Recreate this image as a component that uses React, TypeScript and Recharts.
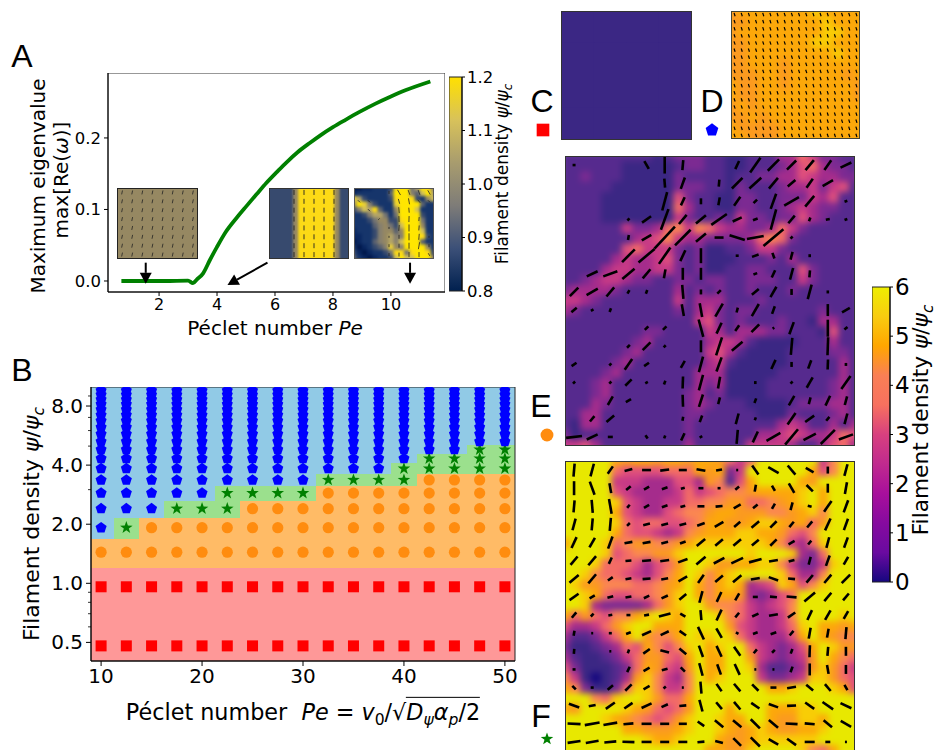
import React from "react";
import { Bar, BarChart, Line, LineChart, ReferenceArea, ReferenceLine, Scatter, ScatterChart, XAxis, YAxis } from "recharts";

// Panel A: growth rate curve
const pecletA = [0.7, 1.5, 2.2, 3.0, 3.17, 3.3, 3.52, 3.75, 3.99, 4.3, 4.68, 5.0, 5.38, 5.7, 6.08, 6.4, 6.78, 7.2, 7.58, 8.0, 8.42, 8.9, 9.47, 10.0, 10.52, 11.36];
const eigenA = [0, 0, 0, 0.0005, -0.003, 0.002, 0.0107, 0.029, 0.047, 0.0685, 0.0885, 0.104, 0.122, 0.137, 0.153, 0.166, 0.18, 0.193, 0.204, 0.215, 0.225, 0.236, 0.248, 0.258, 0.267, 0.279];

// Panel B: phase diagram
const pecletB = [10, 12.5, 15, 17.5, 20, 22.5, 25, 27.5, 30, 32.5, 35, 37.5, 40, 42.5, 45, 47.5, 50];
const psiLevels = [0.48, 0.96, 1.44, 1.92, 2.4, 2.88, 3.36, 3.84, 4.32, 4.8, 5.28, 5.76, 6.24, 6.72, 7.2, 7.68, 8.16, 8.64, 9.12, 9.6];
const redCount = 2;
// how many levels from the bottom are orange / orange + green, per column
const orangeTop = [3, 3, 4, 4, 4, 4, 5, 5, 5, 6, 6, 6, 6, 7, 7, 7, 7];
const starTop = [3, 4, 4, 5, 5, 6, 6, 6, 6, 7, 7, 7, 8, 9, 9, 10, 10];
const psiTicksMajor = [0.5, 1, 2, 4, 8];
const psiTicksMinor = [0.6, 0.7, 0.8, 0.9, 3, 5, 6, 7, 9];

// Density fields, one hex digit per cell (digit * 0.5 = psi/psi_c)
const cRows = ["1111", "1111", "1111", "1111"];
const dRows = [
  "9aaaaaaabaaaa", "99aaaaaaabaaa", "9aaaaaaaabbaa", "99aaaaaabbaaa", "99aaaaaaaabaa", "99aaa9aaaaaaa", "999aa9aaaaa9a",
  "a99aa9aaaaaa9", "a99aaaaaaaaa9", "9a9aaaaaaaaaa", "99a9aaaaaaaaa", "a9999aaaaaaaa", "aa999aaaaaaaa",
];
const eRows = [
  "22222222212333221122244753322", "22222211111233221122234674332", "22322211111322221223344654433", "22222111111333221322234453562",
  "22221111111632211332233354622", "22221111111742211332234543322", "22221111111532232533233643222", "22222253347858754433475322222",
  "22222224568544333347873222222", "22222267555323112235532222222", "22222454456323111222324222222", "22224554455323112233222632222",
  "22345543322332332233322532222", "34444322222423232232223222222", "55432222222524442223222222222", "43222222222324532332222223222",
  "22222222222225632322232214422", "22222222332222542444332221622", "22222223422222455421111222422", "22222234222222564211112222332",
  "22222342222222452111112222242", "22223422222224441111122222242", "22234222222224341111222222342", "22234222222234231111222222342",
  "22243222222234322211112333442", "22442222222233222221113222342", "21442222222232222222245422424", "31222222222232222224456544576",
  "55642222222242222255554224674",
];
const fRows = [
  "ccccca9aa9aa9aa9757cccccc58cc", "ccccc76666777a9a35cccccca68cc", "ccccc5554446649826acccca9cccc", "ccccc65444457567889aaaabcaccc",
  "cccccb6544557788997789abcaccc", "ccccca654467889aa999889ab8ccc", "cccccb76776678aa99abba9a79ccc", "ccccca76654589aaabbaa9768cccc",
  "acccb7899889abbbbbbba8547bccc", "ccccb678899bccccccbcccb437ccc", "cccb77764679ccb99aabb85335bcc", "ccb87765468acb8abccccb7448ccc",
  "cb998887789aca8aba456ba68bccc", "ccba7667789bca8aa943467cccccc", "ccb43333479bcc988754568cccccc", "a797688abcbacccb8754458ccccbc",
  "644579bccaaacccc9654457bcaa9a", "422357ac988acbbcb754446aca988", "31123476a868bcabcc754346acb99", "421123579976acaacc9543459ca87",
  "63111237a9659caaccb422349b975", "85101249b8548cabccc53345bb976", "a831137bb8558cccccccaabcccba6", "ccc87bccb977acccccccccccccccc",
  "a9ccccba97679cccacccaaabbcccc", "ccccba987679bccbaacca99bbaccc", "ccccccaa999abccba9aba99aabccc", "ccccccccbaabccca99abbbbbbcccc",
  "ccccccccccccccaa99bccccb87acc",
];

// Director field E: segment length and angle (deg) per grid site
const eLen = [
  [3, 0, 0, 0, 9, 17, 10, 0, 0, 9, 18, 16, 13, 13, 12, 12], [0, 0, 0, 0, 0, 9, 12, 0, 7, 15, 16, 14, 10, 11, 12, 0],
  [0, 0, 0, 0, 0, 19, 9, 6, 8, 11, 5, 16, 17, 14, 0, 3], [0, 0, 0, 3, 11, 22, 12, 13, 19, 10, 5, 21, 10, 4, 4, 3],
  [0, 0, 0, 5, 11, 30, 22, 13, 9, 16, 17, 26, 3, 0, 0, 0], [0, 0, 0, 18, 21, 20, 12, 15, 0, 3, 7, 6, 8, 3, 0, 0],
  [0, 12, 15, 16, 12, 9, 12, 12, 0, 0, 4, 8, 12, 7, 0, 0], [12, 13, 12, 4, 4, 0, 14, 5, 5, 0, 9, 12, 6, 15, 3, 0],
  [7, 3, 4, 0, 0, 0, 12, 14, 15, 5, 14, 8, 0, 0, 12, 9], [0, 0, 0, 0, 5, 5, 0, 18, 12, 7, 11, 2, 13, 0, 17, 4],
  [0, 0, 0, 4, 11, 3, 0, 12, 19, 14, 0, 0, 17, 0, 18, 0], [6, 0, 3, 13, 6, 0, 8, 16, 15, 0, 0, 10, 5, 9, 10, 3],
  [3, 0, 3, 9, 3, 4, 12, 16, 12, 0, 3, 0, 3, 12, 0, 16], [0, 0, 10, 6, 0, 0, 12, 13, 7, 0, 5, 0, 11, 7, 11, 9],
  [0, 7, 10, 0, 0, 0, 4, 7, 0, 11, 3, 0, 14, 11, 5, 11], [16, 12, 5, 0, 4, 3, 8, 3, 0, 14, 12, 16, 20, 14, 20, 15],
];
const eAng = [
  [0, 0, 0, 0, -60, 90, 85, 0, 0, 65, 55, 45, 45, 50, 55, 25], [0, 0, 0, 0, 0, 95, 70, 0, 85, 45, 42, 50, 40, 55, 30, 0],
  [0, 0, 0, 0, 0, 75, 65, 90, 80, 55, 45, 70, 30, 50, 0, 20], [0, 0, 0, 45, 35, 70, 50, 40, 35, 25, 20, 75, 50, 70, 10, 20],
  [0, 0, 0, 80, 30, 47, 45, 40, 0, -17, 10, 40, 45, 0, 0, 0], [0, 0, 0, 45, 40, 55, 65, 90, 0, 0, 20, -70, 75, 90, 0, 0],
  [0, 25, 20, 40, 50, 80, 90, 90, 0, 0, 20, 65, 75, 85, 0, 0], [45, 30, 50, 60, 70, 0, 95, 90, 45, 0, 40, 60, 90, 75, 90, 0],
  [40, 30, 70, 0, 0, 0, 100, 100, 60, 75, 60, 70, 0, 0, 90, 30], [0, 0, 0, 0, 45, 45, 0, 105, 65, 55, 45, 30, 70, 0, 90, 40],
  [0, 0, 0, 45, 45, 45, 0, 90, 72, 40, 0, 0, 85, 0, 88, 0], [35, 0, 45, 55, 35, 0, 60, 75, 70, 0, 0, 65, 90, 70, 88, 90],
  [45, 0, 45, 45, 30, 70, 88, 75, 80, 0, 90, 0, 45, 60, 0, 55], [0, 0, 60, 30, 0, 0, 92, 72, 75, 0, 70, 0, 60, 75, 65, 75],
  [0, 50, 40, 0, 0, 0, 80, 70, 0, 75, 70, 0, 55, 35, 50, 75], [7, 25, 0, 0, -55, 70, 65, 30, 0, 85, 65, 30, 50, 28, 45, 20],
];

// Director field F
const fLen = [
  [13, 13, 9, 8, 9, 9, 8, 9, 6, 2, 11, 12, 12, 9, 7, 12], [14, 14, 10, 6, 6, 6, 4, 5, 3, 5, 7, 6, 11, 9, 9, 12],
  [12, 13, 15, 4, 6, 6, 5, 7, 7, 8, 6, 6, 8, 4, 13, 13], [12, 12, 13, 4, 7, 7, 7, 8, 10, 8, 10, 9, 7, 8, 13, 12],
  [12, 11, 13, 8, 8, 7, 6, 11, 10, 10, 9, 9, 7, 5, 11, 11], [11, 12, 7, 6, 9, 9, 10, 12, 12, 13, 13, 9, 6, 8, 11, 9],
  [12, 12, 6, 6, 8, 7, 10, 10, 10, 11, 9, 10, 7, 10, 11, 12], [11, 6, 6, 6, 6, 7, 9, 12, 11, 8, 5, 7, 10, 14, 11, 9],
  [7, 4, 4, 4, 5, 12, 6, 10, 12, 6, 7, 9, 9, 11, 11, 9], [5, 2, 3, 5, 10, 9, 8, 14, 11, 3, 5, 6, 6, 11, 9, 12],
  [5, 0, 2, 4, 8, 9, 9, 12, 12, 11, 5, 4, 5, 12, 9, 9], [3, 0, 0, 6, 7, 6, 6, 13, 11, 12, 2, 2, 6, 12, 9, 9],
  [5, 3, 7, 9, 7, 3, 2, 12, 9, 10, 9, 6, 9, 9, 9, 6], [11, 7, 11, 10, 11, 7, 7, 12, 9, 10, 10, 10, 9, 11, 13, 12],
  [13, 15, 14, 10, 10, 9, 8, 8, 11, 11, 13, 12, 12, 10, 11, 12], [13, 13, 12, 12, 10, 9, 9, 7, 8, 11, 13, 11, 11, 10, 5, 2],
];
const fAng = [
  [85, 75, 55, 15, 0, 7, 0, -10, 10, 0, -55, -30, -50, -30, 90, 75], [90, 110, 100, 40, 30, 20, 15, 0, 0, 40, 80, 120, -60, -45, 90, 80],
  [85, 95, 100, 50, 30, 20, 15, 0, 5, 30, 40, 60, 75, -15, 55, 70], [75, 85, 85, 45, 15, 15, 15, 20, 30, 40, 40, 45, 50, 50, 65, 70],
  [65, 60, 70, 10, 10, 15, 20, 40, 40, 40, 40, 45, 30, 50, 75, 70], [50, 50, 65, 5, 5, 8, 20, 40, 28, 25, 15, 10, 15, 75, 70, 60],
  [40, 50, 35, 10, 5, 10, 30, 55, 40, 40, 10, -20, -5, 50, 50, 45], [35, 30, 15, 10, 25, 25, 40, 75, 65, 60, 0, -5, -5, 40, 50, 50],
  [50, 45, 10, 0, 10, 15, -30, -85, 65, 50, 25, 10, 35, 65, 60, 60], [80, 0, 0, 20, 25, 25, -35, -65, -60, -30, 20, 20, 50, 80, 80, 85],
  [85, 0, 0, 70, 35, -15, -40, -70, -65, -55, 50, 45, 70, 88, 85, 90], [0, 0, 0, 65, 30, 15, -45, -75, -70, -65, 0, 0, 70, 90, 100, 90],
  [-45, 0, 40, 45, 30, 40, 0, -85, -55, -50, -45, 0, 10, -40, -50, -60], [-20, 10, 35, 35, 25, 25, 5, -75, -50, -50, -35, -20, 3, -35, -35, -25],
  [-3, 10, 10, 5, 0, 0, 0, -35, -40, -40, -45, -40, -3, -5, -40, -30], [8, 10, 5, -2, 0, 0, 0, 5, -15, -45, -45, -30, -35, 0, 0, 0],
];

// Director field D: same short tilted dashes in all 18 rows
const dLenRow = [3.5, 3.5, 3.5, 3.5, 3.5, 3.5, 3.5, 3.5, 3.5, 3.5, 3.5, 3.5, 3.5, 3.5, 3.5, 3.5, 3.5, 3.5];
const dAngRow = [108, 108, 108, 108, 108, 108, 108, 108, 108, 108, 108, 108, 108, 108, 108, 108, 108, 108];
const dRowIds = [0, 1, 2, 3, 4, 5, 6, 7, 8, 9, 10, 11, 12, 13, 14, 15, 16, 17];

// Insets of panel A, digit d means psi = 0.8 + d / 30
const inset1Rows = ["7"];
const inset2Rows = ["333337bbbbbbb733"];
const inset3Rows = [
  "00112223bcc58cb7", "12222224ccc649c8", "a8322223bccb3279", "7ca63222acccc422",
  "3698b4227ccc9222", "223688525cccc322", "222357733bccc522", "2222467539ccc722",
  "1222367747ccc922", "1122367866cccb32", "0122467869ccc422", "2012346a76cccc72",
  "31012235bb5bccb3", "421012239c99ccc7",
];
const insetLen1 = [
  [4, 4, 4, 4, 4, 4, 4, 4], [4, 4, 4, 4, 4, 4, 4, 4], [4, 4, 4, 4, 4, 4, 4, 4], [4, 4, 4, 4, 4, 4, 4, 4],
  [4, 4, 4, 4, 4, 4, 4, 4], [4, 4, 4, 4, 4, 4, 4, 4], [4, 4, 4, 4, 4, 4, 4, 4], [4, 4, 4, 4, 4, 4, 4, 4],
];
const insetAng1 = [
  [78, 78, 78, 78, 78, 78, 78, 78], [78, 78, 78, 78, 78, 78, 78, 78], [78, 78, 78, 78, 78, 78, 78, 78], [78, 78, 78, 78, 78, 78, 78, 78],
  [78, 78, 78, 78, 78, 78, 78, 78], [78, 78, 78, 78, 78, 78, 78, 78], [78, 78, 78, 78, 78, 78, 78, 78], [78, 78, 78, 78, 78, 78, 78, 78],
];
const insetLen2 = [
  [0, 0, 5, 5, 5, 5, 5, 0], [0, 0, 5, 5, 5, 5, 5, 0], [0, 0, 5, 5, 5, 5, 5, 0], [0, 0, 5, 5, 5, 5, 5, 0],
  [0, 0, 5, 5, 5, 5, 5, 0], [0, 0, 5, 5, 5, 5, 5, 0], [0, 0, 5, 5, 5, 5, 5, 0], [0, 0, 5, 5, 5, 5, 5, 0],
];
const insetAng2 = [
  [90, 90, 90, 90, 90, 90, 90, 90], [90, 90, 90, 90, 90, 90, 90, 90], [90, 90, 90, 90, 90, 90, 90, 90], [90, 90, 90, 90, 90, 90, 90, 90],
  [90, 90, 90, 90, 90, 90, 90, 90], [90, 90, 90, 90, 90, 90, 90, 90], [90, 90, 90, 90, 90, 90, 90, 90], [90, 90, 90, 90, 90, 90, 90, 90],
];
const insetLen3 = [
  [0, 0, 0, 3, 6, 5, 5, 5], [3, 3, 0, 0, 5, 6, 4, 3], [0, 3, 0, 0, 6, 5, 0, 0], [0, 0, 2, 0, 6, 6, 4, 0],
  [0, 0, 0, 2, 6, 7, 5, 0], [0, 0, 0, 2, 4, 7, 6, 2], [0, 0, 0, 3, 4, 6, 7, 3], [0, 0, 0, 3, 4, 5, 5, 3],
];
const insetAng3 = [
  [0, 0, 0, 90, -60, -70, -70, -60], [-45, -45, 0, 0, -75, -80, -50, -45], [0, -45, 0, 0, -85, -85, 0, 0], [0, 0, 45, 0, -88, 88, 85, 0],
  [0, 0, 0, 90, 85, 90, 85, 0], [0, 0, 0, 90, 90, 90, 85, 90], [0, 0, 0, 90, 90, 90, 80, 90], [0, 0, 0, 90, 90, 90, 90, -60],
];

const SANS = "'DejaVu Sans', sans-serif";
const LETTER = "'Liberation Sans', Arial, sans-serif";

const plasmaStops: [number, string][] = [
  [0, "#15087f"], [0.5, "#3b2784"], [1, "#562a8e"], [1.5, "#7c2a92"], [2, "#a52c8c"], [2.5, "#c73a86"], [3, "#e0507c"],
  [3.5, "#f36c66"], [4, "#fb8850"], [4.5, "#fb9a20"], [5, "#fca80a"], [5.5, "#f8cd06"], [6, "#e8e800"],
];
const cividisStops: [number, string][] = [
  [0.8, "#00174a"], [0.84, "#0b2a66"], [0.88, "#1c3a6e"], [0.92, "#515a6d"], [0.96, "#707173"], [1.0, "#87806e"],
  [1.04, "#998a60"], [1.08, "#c3b369"], [1.12, "#e1cc45"], [1.16, "#fbd81a"], [1.2, "#ffe600"],
];
const plasmaBar = ["#eeee00", "#f8cc10", "#ffa600", "#f97f55", "#f7705f", "#d8407f", "#c02a8e", "#a80f9c", "#860a9f", "#6a0aa0", "#16077f"];
const cividisBar = ["#ffe000", "#d8c25a", "#a89c6e", "#7e7c78", "#3c5078", "#00204f"];

function colorAt(stops: [number, string][], v: number) {
  const hex = (s: string, i: number) => parseInt(s.slice(i, i + 2), 16);
  if (v <= stops[0][0]) return stops[0][1];
  for (let i = 1; i < stops.length; i++) {
    if (v <= stops[i][0]) {
      const [a, ca] = stops[i - 1];
      const [b, cb] = stops[i];
      const t = (v - a) / (b - a);
      const m = (k: number) => Math.round(hex(ca, k) + (hex(cb, k) - hex(ca, k)) * t);
      return `rgb(${m(1)},${m(3)},${m(5)})`;
    }
  }
  return stops[stops.length - 1][1];
}

const toPlasma = (ch: string) => colorAt(plasmaStops, parseInt(ch, 16) * 0.5);
const toCividis = (ch: string) => colorAt(cividisStops, 0.8 + parseInt(ch, 16) / 30);

// Field image: scatter of squares (blurred layer) with a scatter of rotated segments above it
const HeatPanel = ({ left, top, width, height, rows, colorOf, lens, angs, lineWidth, lineColor = "#000", blur = 0, border = "#444" }: any) => {
  const nr = rows.length;
  const cells = rows.flatMap((row: string, j: number) =>
    [...row].map((ch, i) => ({ x: (i + 0.5) / row.length, y: 1 - (j + 0.5) / nr, w: width / row.length, h: height / nr, fill: colorOf(ch) })),
  );
  const segs = (lens || []).flatMap((row: number[], j: number) =>
    row.map((len, i) => ({ x: (i + 0.5) / row.length, y: 1 - (j + 0.5) / lens.length, len, ang: angs[j][i] })).filter((d) => d.len > 0),
  );
  const cellShape = (p: any) => (
    <rect x={p.cx - p.payload.w / 2 - 0.5} y={p.cy - p.payload.h / 2 - 0.5} width={p.payload.w + 1} height={p.payload.h + 1} fill={p.payload.fill} />
  );
  const segShape = (p: any) => {
    const r = (p.payload.ang * Math.PI) / 180;
    const dx = (Math.cos(r) * p.payload.len) / 2;
    const dy = (Math.sin(r) * p.payload.len) / 2;
    return <line x1={p.cx - dx} y1={p.cy + dy} x2={p.cx + dx} y2={p.cy - dy} stroke={lineColor} strokeWidth={lineWidth} />;
  };
  const grow = blur ? 1 + (3 * blur) / width : 1;
  const zero = { top: 0, right: 0, bottom: 0, left: 0 };
  return (
    <div style={{ position: "absolute", left, top, width, height, overflow: "hidden", background: "#fff" }}>
      <div style={{ position: "absolute", left: 0, top: 0, filter: blur ? `blur(${blur}px)` : undefined, transform: `scale(${grow})` }}>
        <ScatterChart width={width} height={height} margin={zero}>
          <XAxis type="number" dataKey="x" domain={[0, 1]} hide />
          <YAxis type="number" dataKey="y" domain={[0, 1]} hide />
          <Scatter data={cells} shape={cellShape} isAnimationActive={false} />
        </ScatterChart>
      </div>
      {segs.length > 0 && (
        <div style={{ position: "absolute", left: 0, top: 0 }}>
          <ScatterChart width={width} height={height} margin={zero}>
            <XAxis type="number" dataKey="x" domain={[0, 1]} hide />
            <YAxis type="number" dataKey="y" domain={[0, 1]} hide />
            <Scatter data={segs} shape={segShape} isAnimationActive={false} />
          </ScatterChart>
        </div>
      )}
      <div style={{ position: "absolute", inset: 0, boxSizing: "border-box", border: `1px solid ${border}` }} />
    </div>
  );
};

const ColorBar = ({ left, top, width, height, domain, ticks, colors, id, fontSize, tickFormat }: any) => (
  <div style={{ position: "absolute", left, top: top - 14, fontFamily: SANS }}>
    <BarChart width={width + 44} height={height + 28} data={[{ name: "cb", v: domain }]} margin={{ top: 14, right: 0, bottom: 14, left: 0 }} barCategoryGap={0}>
      <defs>
        <linearGradient id={id} x1="0" y1="0" x2="0" y2="1">
          {colors.map((c: string, i: number) => (
            <stop key={i} offset={i / (colors.length - 1)} stopColor={c} />
          ))}
        </linearGradient>
      </defs>
      <XAxis dataKey="name" hide />
      <YAxis orientation="right" width={44} type="number" domain={domain} ticks={ticks} interval={0} tickFormatter={tickFormat}
        tick={{ fontSize, fill: "#000", fontFamily: SANS }} tickSize={3} tickMargin={2} stroke="#000" />
      <Bar dataKey="v" fill={`url(#${id})`} stroke="#222" isAnimationActive={false} />
    </BarChart>
  </div>
);

const Txt = ({ x, y, size, rotate, family = SANS, children }: any) => (
  <div style={{
    position: "absolute", left: x, top: y, fontFamily: family, fontSize: size, color: "#000", whiteSpace: "pre", lineHeight: 1,
    transform: `translate(-50%,-50%)${rotate ? ` rotate(${rotate}deg)` : ""}`,
  }}>
    {children}
  </div>
);

const PsiFrac = () => (
  <span style={{ whiteSpace: "pre" }}>
    <i>ψ</i>/<i>ψ</i><sub style={{ fontSize: "0.7em", lineHeight: 0 }}><i>c</i></sub>
  </span>
);

// marker shapes shared between panel B and the panel keys
const starPoints = (cx: number, cy: number, R: number) =>
  Array.from({ length: 10 }, (_, i) => {
    const r = i % 2 === 0 ? R : R * 0.4;
    const t = (-90 + i * 36) * (Math.PI / 180);
    return `${cx + r * Math.cos(t)},${cy + r * Math.sin(t)}`;
  }).join(" ");
const pentaPoints = (cx: number, cy: number, R: number) =>
  Array.from({ length: 5 }, (_, i) => {
    const t = (-90 + i * 72) * (Math.PI / 180);
    return `${cx + R * Math.cos(t)},${cy + R * Math.sin(t)}`;
  }).join(" ");
const SquareMark = (p: any) => <rect x={p.cx - 5.5} y={p.cy - 5.5} width={11} height={11} fill="#ff0000" />;
const CircleMark = (p: any) => <circle cx={p.cx} cy={p.cy} r={5.6} fill="#ff8c0f" />;
const PentaMark = (p: any) => <polygon points={pentaPoints(p.cx, p.cy, 5.8)} fill="#0000ff" />;
const StarMark = (p: any) => <polygon points={starPoints(p.cx, p.cy, 6.6)} fill="#008000" />;

const Key = ({ x, y, Mark, R = 1 }: any) => (
  <svg style={{ position: "absolute", left: x - 10, top: y - 10 }} width={20} height={20}>
    <g transform={`translate(10 10) scale(${R}) translate(-10 -10)`}>
      <Mark cx={10} cy={10} />
    </g>
  </svg>
);

const Arrow = (p: any) => {
  const x1 = p.x1, y1 = p.y1, x2 = p.x2, y2 = p.y2;
  const L = Math.hypot(x2 - x1, y2 - y1);
  const ux = (x2 - x1) / L, uy = (y2 - y1) / L;
  const bx = x2 - ux * 11, by = y2 - uy * 11;
  return (
    <g>
      <line x1={x1} y1={y1} x2={bx} y2={by} stroke="#000" strokeWidth={2} />
      <polygon points={`${x2},${y2} ${bx - uy * 6},${by + ux * 6} ${bx + uy * 6},${by - ux * 6}`} fill="#000" />
    </g>
  );
};

const PsiTick = (p: any) => {
  const major = psiTicksMajor.includes(p.payload.value);
  const ax = p.x + 8;
  return (
    <g>
      <line x1={ax - (major ? 5 : 3)} x2={ax} y1={p.y} y2={p.y} stroke="#000" strokeWidth={major ? 1 : 0.8} />
      {major && (
        <text x={p.x} y={p.y} dy={7} textAnchor="end" fontSize={20} fontFamily={SANS} fill="#000">
          {p.payload.value.toFixed(1)}
        </text>
      )}
    </g>
  );
};

export default function App() {
  const lineData = pecletA.map((x, i) => ({ x, y: eigenA[i] }));
  const red = pecletB.flatMap((x) => psiLevels.slice(0, redCount).map((y) => ({ x, y })));
  const orange = pecletB.flatMap((x, c) => psiLevels.slice(redCount, orangeTop[c]).map((y) => ({ x, y })));
  const green = pecletB.flatMap((x, c) => psiLevels.slice(orangeTop[c], starTop[c]).map((y) => ({ x, y })));
  const blue = pecletB.flatMap((x, c) => psiLevels.slice(starTop[c]).map((y) => ({ x, y })));
  // edge between level n-1 and n, midway
  const edge = (n: number) => (psiLevels[n - 1] + psiLevels[n]) / 2;
  const xL = (c: number) => Math.max(9, pecletB[c] - 1.25);
  const xR = (c: number) => Math.min(51, pecletB[c] + 1.25);
  const band = { fillOpacity: 1, shapeRendering: "crispEdges" };

  return (
    <div style={{ position: "absolute", left: 0, top: 0, width: 936, height: 750, overflow: "hidden", background: "#fff" }}>
      {/* Panel A */}
      <div style={{ position: "absolute", left: 58, top: 73 }}>
        <LineChart width={387} height={249} data={lineData} margin={{ top: 0, right: 0, bottom: 0, left: 0 }}>
          <XAxis type="number" dataKey="x" domain={[0.238, 11.866]} ticks={[2, 4, 6, 8, 10]} height={30} tickSize={4} tickMargin={3}
            tick={{ fontSize: 16, fill: "#000", fontFamily: SANS }} stroke="#000" />
          <YAxis type="number" domain={[-0.0154, 0.2908]} ticks={[0, 0.1, 0.2]} width={50} tickSize={4} tickMargin={3} allowDataOverflow
            tickFormatter={(v: number) => v.toFixed(1)} tick={{ fontSize: 16.5, fill: "#000", fontFamily: SANS }} stroke="#000" />
          <ReferenceArea x1={0.238} x2={11.866} y1={-0.0154} y2={0.2908} fill="none" stroke="#333" />
          <Line dataKey="y" stroke="#008000" strokeWidth={3.8} dot={false} isAnimationActive={false} type="monotone" />
          <ReferenceLine segment={[{ x: 1.54, y: 0.0256 }, { x: 1.54, y: -0.004 }]} shape={Arrow} />
          <ReferenceLine segment={[{ x: 5.74, y: 0.0256 }, { x: 4.36, y: -0.0056 }]} shape={Arrow} />
          <ReferenceLine segment={[{ x: 10.66, y: 0.0256 }, { x: 10.66, y: -0.004 }]} shape={Arrow} />
        </LineChart>
      </div>
      <HeatPanel left={117} top={188} width={81} height={71} rows={inset1Rows} colorOf={toCividis} lens={insetLen1} angs={insetAng1} lineWidth={0.8} lineColor="#222" border="#222" />
      <HeatPanel left={269} top={188} width={80} height={71} rows={inset2Rows} colorOf={toCividis} lens={insetLen2} angs={insetAng2} lineWidth={0.9} lineColor="#222" border="#333" blur={1} />
      <HeatPanel left={354} top={188} width={80} height={71} rows={inset3Rows} colorOf={toCividis} lens={insetLen3} angs={insetAng3} lineWidth={0.8} lineColor="#222" border="#555" blur={1.6} />
      <ColorBar left={449} top={77} width={13} height={214} domain={[0.8, 1.2]} ticks={[0.8, 0.9, 1, 1.1, 1.2]} colors={cividisBar} id="cbA" fontSize={16.5} tickFormat={(v: number) => v.toFixed(1)} />

      {/* Panel B */}
      <div style={{ position: "absolute", left: 31, top: 387 }}>
        <ScatterChart width={500} height={306} margin={{ top: 0, right: 16, bottom: 0, left: 0 }}>
          <XAxis type="number" dataKey="x" domain={[9, 51]} ticks={[10, 20, 30, 40, 50]} height={32} tickSize={5} tickMargin={3}
            tick={{ fontSize: 20, fill: "#000", fontFamily: SANS }} stroke="#000" />
          <YAxis type="number" dataKey="y" scale="log" domain={[0.402, 10]} allowDataOverflow width={60} interval={0}
            ticks={[...psiTicksMajor, ...psiTicksMinor]} tick={PsiTick} tickLine={false} tickSize={5} tickMargin={3} stroke="#000" />
          <ReferenceArea x1={9} x2={51} y1={0.402} y2={edge(redCount)} fill="#fe9898" stroke="none" {...band} />
          {pecletB.map((_, c) => (
            <ReferenceArea key={`o${c}`} x1={xL(c)} x2={xR(c)} y1={edge(redCount)} y2={edge(orangeTop[c])} fill="#ffbb66" stroke="none" {...band} />
          ))}
          {pecletB.map((_, c) =>
            starTop[c] > orangeTop[c] ? (
              <ReferenceArea key={`g${c}`} x1={xL(c)} x2={xR(c)} y1={edge(orangeTop[c])} y2={edge(starTop[c])} fill="#9be08d" stroke="none" {...band} />
            ) : null,
          )}
          {pecletB.map((_, c) => (
            <ReferenceArea key={`b${c}`} x1={xL(c)} x2={xR(c)} y1={edge(starTop[c])} y2={10} fill="#91cae6" stroke="none" {...band} />
          ))}
          <ReferenceArea x1={9} x2={51} y1={0.402} y2={10} fill="none" stroke="#222" />
          <Scatter data={red} shape={SquareMark} isAnimationActive={false} />
          <Scatter data={orange} shape={CircleMark} isAnimationActive={false} />
          <Scatter data={green} shape={StarMark} isAnimationActive={false} />
          <Scatter data={blue} shape={PentaMark} isAnimationActive={false} />
        </ScatterChart>
      </div>

      {/* Field panels */}
      <HeatPanel left={561} top={11} width={131} height={129} rows={cRows} colorOf={toPlasma} border="#333" />
      <HeatPanel left={731} top={11} width={129} height={128} rows={dRows} colorOf={toPlasma} blur={3}
        lens={dRowIds.map(() => dLenRow)} angs={dRowIds.map(() => dAngRow)} lineWidth={1.2} border="#443" />
      <HeatPanel left={565} top={156} width={290} height={290} rows={eRows} colorOf={toPlasma} lens={eLen} angs={eAng} lineWidth={2.6} border="#333" blur={3.2} />
      <HeatPanel left={565} top={461} width={290} height={290} rows={fRows} colorOf={toPlasma} lens={fLen} angs={fAng} lineWidth={2.6} border="#333" blur={3.2} />
      <ColorBar left={872} top={287} width={18} height={295} domain={[0, 6]} ticks={[0, 1, 2, 3, 4, 5, 6]} colors={plasmaBar} id="cbF" fontSize={23} />

      {/* Panel letters and keys */}
      <Txt x={22} y={56} size={32} family={LETTER}>A</Txt>
      <Txt x={22} y={370} size={32} family={LETTER}>B</Txt>
      <Txt x={542} y={101} size={32} family={LETTER}>C</Txt>
      <Txt x={712} y={101} size={32} family={LETTER}>D</Txt>
      <Txt x={541} y={406} size={32} family={LETTER}>E</Txt>
      <Txt x={541} y={716} size={32} family={LETTER}>F</Txt>
      <Key x={543} y={130} Mark={SquareMark} R={1.15} />
      <Key x={712} y={130} Mark={PentaMark} R={1.15} />
      <Key x={547} y={435} Mark={CircleMark} R={1.15} />
      <Key x={547} y={739} Mark={StarMark} />

      {/* Axis labels */}
      <Txt x={38} y={186} size={20} rotate={-90}>Maximum eigenvalue</Txt>
      <Txt x={61} y={180} size={20} rotate={-90}>max[Re(<i>ω</i>)]</Txt>
      <Txt x={275} y={328} size={20}>Péclet number <i>Pe</i></Txt>
      <Txt x={502} y={174} size={17} rotate={-90}>Filament density <PsiFrac /></Txt>
      <Txt x={32} y={524} size={22} rotate={-90}>Filament density <PsiFrac /></Txt>
      <Txt x={303} y={712} size={22.3}>
        Péclet number  <i>Pe</i> = <i>v</i><sub style={{ fontSize: "0.7em", lineHeight: 0 }}>0</sub>/√<span style={{ borderTop: "1.5px solid #000", paddingTop: 1 }}><i>D</i><sub style={{ fontSize: "0.7em", lineHeight: 0 }}><i>ψ</i></sub><i>α</i><sub style={{ fontSize: "0.7em", lineHeight: 0 }}><i>p</i></sub>/2</span>
      </Txt>
      <Txt x={921} y={420} size={21.7} rotate={-90}>Filament density <PsiFrac /></Txt>
    </div>
  );
}
